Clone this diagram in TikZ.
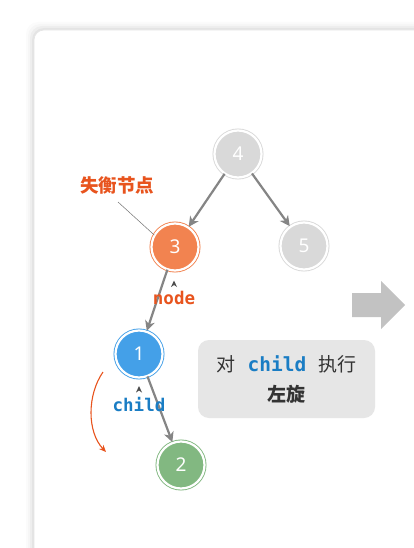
\documentclass[tikz,border=0pt]{standalone}
\usepackage{fontspec}
\setmainfont{Noto Sans}
\newfontfamily\cjk{Noto Sans CJK SC}
\newfontfamily\monob{DejaVu Sans Mono}
\usetikzlibrary{arrows.meta}
\definecolor{gnode}{HTML}{D9D9D9}
\definecolor{onode}{HTML}{F28350}
\definecolor{bnode}{HTML}{44A0E8}
\definecolor{grnode}{HTML}{82B881}
\definecolor{olab}{HTML}{E8541E}
\definecolor{blab}{HTML}{1A7DC4}
\definecolor{edgec}{HTML}{858585}
\definecolor{boxc}{HTML}{E6E6E6}
\definecolor{bigarrow}{HTML}{C2C2C2}
\tikzset{
  tnode/.style={circle, minimum size=47pt, inner sep=0pt, fill=#1, draw=#1,
    line width=0.9pt, double=white, double distance=2.2pt,
    text=white, font=\fontsize{19}{19}\selectfont},
  tedge/.style={draw=edgec, line width=2.2pt, -{Stealth[length=10pt,width=10pt,inset=3pt]}, shorten >=0.5pt},
  caret/.style={fill=black!70},
}
\begin{document}
\begin{tikzpicture}[x=1pt,y=-1pt]
\useasboundingbox (0,0) rectangle (414,548);
\fill[white] (0,0) rectangle (414,548);
% card shadow
\foreach \d/\o in {8/0.015,6/0.02,4/0.03,2/0.04}{
  \fill[black,opacity=\o,rounded corners=12pt] (34-\d,30-\d) rectangle (430,560);
}
\filldraw[fill=white,draw=black!10,line width=0.6pt,rounded corners=10pt] (34,30) rectangle (430,560);

% nodes
\node[tnode=gnode] (n4) at (238,154) {4};
\node[tnode=onode] (n3) at (175,247) {3};
\node[tnode=gnode] (n5) at (304,246) {5};
\node[tnode=bnode] (n1) at (139,354) {1};
\node[tnode=grnode] (n2) at (181,465) {2};

% edges
\draw[tedge] (n4) -- (n3);
\draw[tedge] (n4) -- (n5);
\draw[tedge] (n3) -- (n1);
\draw[tedge] (n1) -- (n2);

% label 失衡节点
\node[text=olab, font=\cjk\fontsize{18.5}{18.5}\selectfont\bfseries] (lab) at (117,185) {失衡节点};
\coordinate (la) at (118,202);
\draw[black!55, line width=0.5pt] (la) -- (n3.150);

% node / child labels
\node[text=olab, font=\monob\fontsize{17.5}{17.5}\selectfont\bfseries] (nodelab) at (174,298) {node};
\fill[caret] (171,287) -- (174,280.5) -- (177,287) -- (174,285) -- cycle;
\node[text=blab, font=\monob\fontsize{17.5}{17.5}\selectfont\bfseries] (childlab) at (139,405) {child};
\fill[caret] (136,392.5) -- (139,386) -- (142,392.5) -- (139,390.5) -- cycle;

% rotation arrow
\coordinate (ra) at (103,372);
\coordinate (rb) at (106,452);
\draw[olab, line width=1.1pt, -{Stealth[length=7pt,width=6pt]}] (ra) .. controls (87,395) and (87,432) .. (rb);

% box
\node[fill=boxc, rounded corners=11pt, minimum width=177pt, minimum height=78pt, inner sep=0pt, align=center,
  font=\cjk\fontsize{19}{30}\selectfont, text=black!80] (box) at (286.5,379)
  {对\hspace{12pt}{\monob\fontsize{19.5}{19.5}\selectfont\bfseries\color{blab}child}\hspace{12pt}执行\\{\bfseries 左旋}};

% big arrow
\fill[bigarrow] (352,293) -- (381,293) -- (381,281) -- (405,305) -- (381,329) -- (381,317) -- (352,317) -- cycle;
\end{tikzpicture}
\end{document}
